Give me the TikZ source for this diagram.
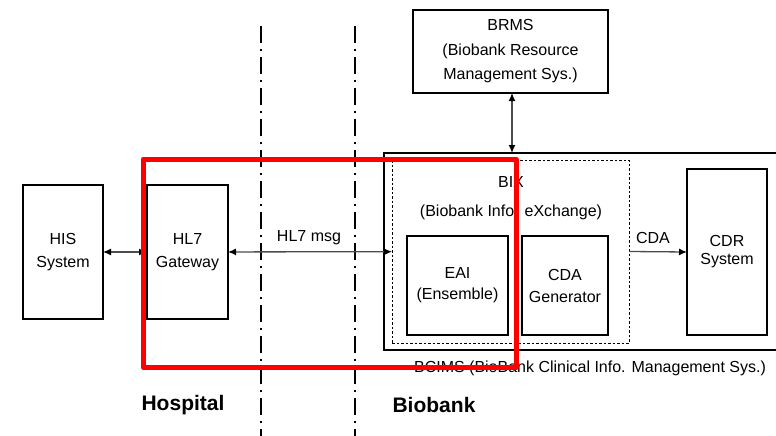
\documentclass[tikz,border=0pt]{standalone}
\usepackage{fontspec}
\setmainfont{Liberation Sans}
\usetikzlibrary{arrows.meta}
\begin{document}
\begin{tikzpicture}[x=1pt,y=-1pt,
  box/.style={draw=black,line width=1.3pt,inner sep=0pt,outer sep=0pt,align=center,
    font=\fontsize{16}{23}\selectfont},
  dashbox/.style={draw=black,line width=1pt,dash pattern=on 2.5pt off 2pt,inner sep=0pt,outer sep=0pt},
  lbl/.style={inner sep=0pt,font=\fontsize{16}{23}\selectfont,align=center},
  biglbl/.style={inner sep=0pt,font=\fontsize{21}{25}\selectfont\bfseries},
  conn/.style={draw=black!70,line width=1.3pt,{Latex[length=8pt,width=7pt,color=black]}-{Latex[length=8pt,width=7pt,color=black]}},
  conn1/.style={draw=black!70,line width=1.3pt,-{Latex[length=8pt,width=7pt,color=black]}},
  divider/.style={draw=black,line width=1.6pt,dash pattern=on 17pt off 6pt on 2pt off 6pt},
  highlight/.style={draw=red,line width=5pt,line join=round}
]
\useasboundingbox (0,0) rectangle (776,436);
% dividers
\coordinate (d1t) at (261,26); \coordinate (d1b) at (261,436);
\coordinate (d2t) at (355,26); \coordinate (d2b) at (355,436);
\draw[divider] (d1t) -- (d1b);
\draw[divider] (d2t) -- (d2b);
% nodes
\node[box,minimum width=80pt,minimum height=134pt] (his) at (63,252) {HIS\\System};
\node[box,minimum width=81pt,minimum height=134pt] (gw) at (187.5,252) {HL7\\Gateway};
\node[box,minimum width=195pt,minimum height=83pt,font=\fontsize{16}{24.5}\selectfont] (brms) at (510.5,51.5) {BRMS\\(Biobank Resource\\Management Sys.)};
\node[box,minimum width=406pt,minimum height=197pt] (bcims) at (587,251.5) {};
\node[dashbox,minimum width=237pt,minimum height=183pt] (bix) at (510.5,251.5) {};
\node[lbl,font=\fontsize{16}{29}\selectfont] (bixl) at (511,198) {BIX\\(Biobank Info. eXchange)};
\node[box,minimum width=101pt,minimum height=99pt,font=\fontsize{16}{21}\selectfont] (eai) at (457.5,285.5) {EAI\\(Ensemble)};
\node[box,minimum width=86pt,minimum height=99pt,font=\fontsize{16}{22}\selectfont] (cdag) at (565,285.5) {CDA\\Generator};
\node[box,minimum width=80pt,minimum height=166pt,font=\fontsize{16}{18}\selectfont] (cdr) at (727,252) {CDR\\System};
% labels
\node[lbl] (msg) at (309,238) {HL7 msg};
\node[lbl] (cdal) at (653,238) {CDA};
\node[lbl] (bcimsl) at (590,368) {BCIMS (BioBank Clinical Info. Management Sys.)};
\node[biglbl] (hosp) at (183,405) {Hospital};
\node[biglbl] (bio) at (434,405) {Biobank};
% connectors
\draw[conn] (his) -- (gw);
\draw[conn] (gw) -- (bix);
\draw[conn] (brms.south -| 512,0) -- (bcims.north -| 512,0);
\draw[conn1] (bix.east) -- (cdr.west);
% highlight
\coordinate (r1) at (143,159); \coordinate (r2) at (516,367);
\draw[highlight] (r1) rectangle (r2);
\end{tikzpicture}
\end{document}
